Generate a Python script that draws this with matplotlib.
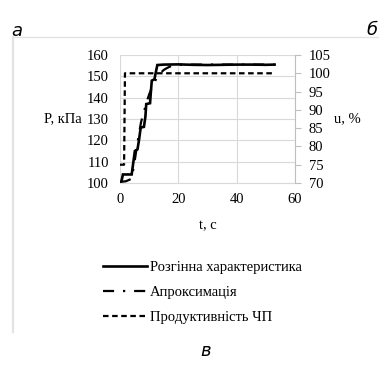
import matplotlib
matplotlib.use("Agg")
import matplotlib.pyplot as plt
from matplotlib.lines import Line2D

# Розгінна характеристика (P, кПа)
t_resp = [0, 0.5, 1.0, 4.0, 4.6, 5.1, 6.0, 6.5, 7.1, 8.2, 8.7, 9.0, 10.3,
          10.6, 10.9, 11.8, 12.3, 12.8, 15, 20, 25, 30, 35, 40, 45, 50, 53]
p_resp = [100.3, 100.8, 104, 104, 110, 115, 115.8, 120, 126, 126.3, 131, 137,
          137.4, 143, 148, 148.6, 152, 155.3, 155.5, 155.6, 155.4, 155.3,
          155.4, 155.5, 155.5, 155.4, 155.5]

# Апроксимація (P, кПа)
t_apr = [0, 2, 4, 5, 6, 7.2, 8, 9.5, 10, 11, 12, 13, 14, 15, 16, 17, 18,
         20, 25, 30, 40, 53]
p_apr = [100.5, 100.8, 102, 110, 119, 128.4, 132.5, 139.5, 141.5, 145, 147.8,
         150, 151.7, 153, 153.8, 154.5, 155, 155.4, 155.5, 155.5, 155.5, 155.5]

# Продуктивність ЧП (u, %)
t_u = [0, 1.4, 1.7, 53]
u_vals = [75, 75, 100, 100]

legend_labels = ["Розгінна характеристика", "Апроксимація",
                 "Продуктивність ЧП"]

W, H = 379, 374
fig = plt.figure(figsize=(W / 100, H / 100), dpi=100)
plt.rcParams["font.family"] = ["Liberation Serif"]
fs = 10.5
grid_c = "#d9d9d9"

# Frame of the surrounding panel
fig.add_artist(Line2D([13 / W, 13 / W], [1 - 37 / H, 1 - 332 / H],
                      color="#e3e3e3", lw=1.6, transform=fig.transFigure))
fig.add_artist(Line2D([13 / W, 1.0], [1 - 37 / H, 1 - 37 / H],
                      color="#e3e3e3", lw=1.0, transform=fig.transFigure))

# Panel letters
letter_font = dict(family="DejaVu Sans", style="italic", fontsize=13)
fig.text(17 / W, 1 - 31 / H, "a", ha="center", va="center", **letter_font)
fig.text(378 / W, 1 - 30 / H, "б", ha="right", va="center", **letter_font)
fig.text(206 / W, 1 - 351 / H, "в", ha="center", va="center", **letter_font)

ax = fig.add_axes([120 / W, 1 - 183 / H, 175 / W, 128 / H])
ax.plot(t_resp, p_resp, color="black", lw=1.9, solid_joinstyle="miter")
ax.plot(t_apr, p_apr, color="black", lw=1.6, dashes=(5, 4, 1, 4))
ax.set_xlim(0, 60)
ax.set_ylim(100, 160)
ax.set_xticks([0, 20, 40, 60])
ax.set_yticks(range(100, 161, 10))
ax.grid(True, color=grid_c, lw=0.8)
ax.set_axisbelow(True)
for side in ["top", "right", "left"]:
    ax.spines[side].set_visible(False)
ax.spines["bottom"].set_color(grid_c)
ax.tick_params(axis="y", length=0, labelsize=fs, pad=8)
ax.tick_params(axis="x", length=0, labelsize=fs, pad=7)
ax.set_xlabel("t, c", fontsize=fs, labelpad=10)
ax.set_ylabel("P, кПа", fontsize=fs, rotation=0, ha="right", va="center",
              labelpad=4)

ax2 = ax.twinx()
ax2.plot(t_u, u_vals, color="black", lw=1.6, dashes=(2.5, 1.6))
ax2.set_ylim(70, 105)
ax2.set_yticks(range(70, 106, 5))
for side in ["top", "left", "bottom"]:
    ax2.spines[side].set_visible(False)
ax2.spines["right"].set_color("#bfbfbf")
ax2.tick_params(axis="y", length=4, color="#bfbfbf", labelsize=fs, pad=6)
ax2.set_ylabel("u, %", fontsize=fs, rotation=0, ha="left", va="center",
               labelpad=2)

handles = [
    Line2D([], [], color="black", lw=1.9),
    Line2D([], [], color="black", lw=1.6, dashes=(5, 4, 1, 4)),
    Line2D([], [], color="black", lw=1.6, dashes=(2.5, 1.6)),
]
fig.legend(handles, legend_labels, loc="upper left",
           bbox_to_anchor=(90 / W, 1 - 248 / H), frameon=False, fontsize=fs,
           handlelength=3.0, handletextpad=0.2, labelspacing=0.8)

fig.savefig("out.png", dpi=100)
